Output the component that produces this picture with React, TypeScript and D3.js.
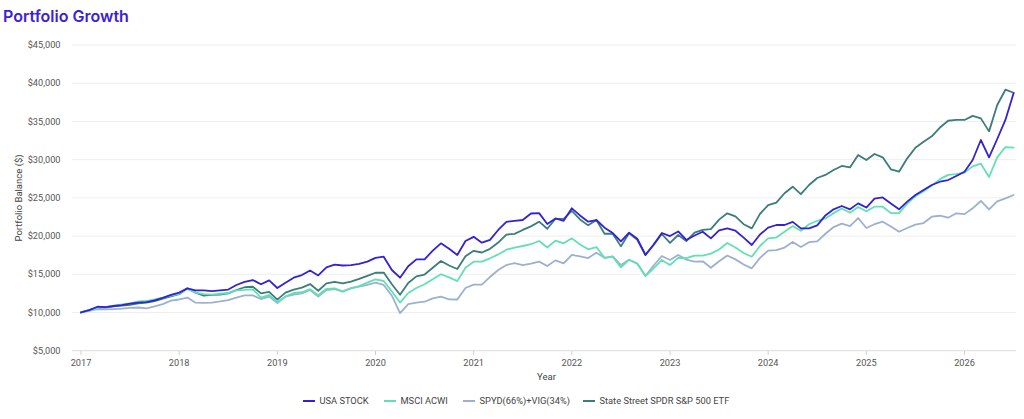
import React from 'react';
import * as d3 from 'd3';

// Year tick labels (one per January, data is monthly from Jan 2017)
const yearLabels = ['2017', '2018', '2019', '2020', '2021', '2022', '2023', '2024', '2025', '2026'];
const yTicks = [5000, 10000, 15000, 20000, 25000, 30000, 35000, 40000, 45000];

// Portfolio balances in thousands of dollars, monthly
const usaStock = [
  10.0, 10.3, 10.75, 10.7, 10.85, 10.95, 11.15, 11.3, 11.35, 11.6, 11.9, 12.3,
  12.6, 13.15, 12.9, 12.9, 12.8, 12.9, 13.0, 13.6, 14.0, 14.25, 13.7, 14.2,
  13.2, 13.9, 14.55, 14.9, 15.5, 14.85, 15.9, 16.25, 16.15, 16.2, 16.35, 16.65,
  17.15, 17.3, 15.56, 14.55, 16.05, 16.95, 16.95, 18.1, 19.05, 18.35, 17.52, 19.35,
  19.9, 19.13, 19.5, 20.8, 21.86, 22.0, 22.1, 22.95, 23.0, 21.58, 22.3, 22.0,
  23.63, 22.7, 21.88, 22.1, 21.1, 20.4, 19.3, 20.45, 19.65, 17.52, 18.9, 20.4,
  20.0, 20.6, 19.49, 20.07, 20.57, 19.7, 20.75, 21.0, 20.7, 19.8, 18.83, 20.2,
  21.1, 21.45, 21.45, 21.86, 21.0, 21.0, 21.4, 22.7, 23.5, 23.93, 23.5, 24.28,
  23.73, 24.9, 25.05, 24.25, 23.5, 24.5, 25.37, 26.03, 26.68, 27.11, 27.33, 27.86,
  28.42, 29.95, 32.57, 30.3, 32.7, 35.19, 38.7,
];
const msciAcwi = [
  10.0, 10.25, 10.6, 10.7, 10.9, 11.05, 11.2, 11.45, 11.5, 11.7, 11.95, 12.2,
  12.45, 13.1, 12.6, 12.4, 12.35, 12.45, 12.55, 12.9, 12.95, 13.03, 11.95, 12.3,
  11.37, 12.1, 12.55, 12.65, 13.05, 12.25, 13.1, 13.16, 12.77, 13.2, 13.46, 13.9,
  14.34, 14.12, 12.75, 11.3, 12.55, 13.2, 13.7, 14.36, 15.0, 14.6, 14.1, 15.85,
  16.65, 16.65, 17.09, 17.6, 18.22, 18.5, 18.7, 18.93, 19.35, 18.5, 19.4, 19.05,
  19.7, 18.9, 18.27, 18.56, 17.15, 17.3, 15.9, 16.9, 16.4, 14.77, 15.78, 16.87,
  16.21, 17.15, 17.1, 17.45, 17.45, 17.7, 18.25, 19.1, 18.5, 17.78, 17.3, 18.7,
  19.7, 19.8, 20.57, 21.3, 20.7, 21.55, 22.0, 22.3, 23.0, 23.6, 23.05, 23.8,
  23.25, 23.84, 23.84, 23.0, 23.0, 24.24, 25.2, 25.85, 26.6, 27.45, 28.0, 28.1,
  28.3, 29.12, 29.48, 27.73, 30.3, 31.65, 31.58,
];
const spydVig = [
  10.0, 10.2, 10.45, 10.4, 10.45, 10.5, 10.6, 10.65, 10.55, 10.8, 11.1, 11.55,
  11.7, 11.95, 11.28, 11.25, 11.3, 11.45, 11.63, 11.95, 12.25, 12.24, 11.76, 12.07,
  11.22, 12.07, 12.35, 12.5, 12.95, 12.07, 12.94, 13.07, 12.72, 13.16, 13.37, 13.6,
  13.9, 13.6, 12.2, 9.93, 11.1, 11.28, 11.41, 11.85, 12.07, 11.72, 11.7, 13.2,
  13.65, 13.65, 14.65, 15.56, 16.21, 16.47, 16.21, 16.38, 16.65, 16.08, 16.82, 16.43,
  17.55, 17.35, 17.12, 17.82, 17.15, 17.35, 16.21, 16.9, 16.4, 14.77, 16.15, 17.39,
  16.87, 17.52, 16.92, 16.65, 16.7, 15.85, 16.7, 17.45, 16.95, 16.28, 15.78, 17.15,
  18.1, 18.15, 18.5, 19.22, 18.56, 19.2, 19.3, 20.3, 21.18, 21.62, 21.3, 22.36,
  21.05, 21.55, 21.88, 21.26, 20.57, 21.05, 21.5, 21.7, 22.53, 22.66, 22.4, 22.98,
  22.87, 23.63, 24.59, 23.5, 24.55, 24.94, 25.37,
];
const stateStreet = [
  10.0, 10.3, 10.6, 10.65, 10.8, 10.9, 11.0, 11.2, 11.3, 11.5, 11.8, 12.1,
  12.4, 13.15, 12.6, 12.2, 12.3, 12.35, 12.5, 12.94, 13.3, 13.37, 12.5, 12.7,
  11.68, 12.6, 13.0, 13.25, 13.72, 12.85, 13.8, 14.0, 13.8, 14.03, 14.4, 14.8,
  15.2, 15.22, 13.7, 12.33, 13.85, 14.72, 14.97, 15.85, 16.74, 16.15, 15.69, 17.35,
  18.07, 17.85, 18.33, 19.15, 20.2, 20.28, 20.8, 21.27, 21.88, 20.95, 22.26, 22.25,
  23.3, 22.17, 21.4, 22.1, 20.3, 20.3, 18.65, 20.36, 19.5, 17.56, 18.83, 20.27,
  19.1, 20.14, 19.35, 20.45, 20.8, 20.9, 22.15, 22.98, 22.58, 21.55, 21.0, 22.9,
  24.06, 24.38, 25.6, 26.46, 25.48, 26.68, 27.6, 28.0, 28.64, 29.17, 28.98, 30.6,
  29.95, 30.74, 30.3, 28.73, 28.42, 30.17, 31.55, 32.35, 33.05, 34.2, 35.09, 35.19,
  35.19, 35.72, 35.4, 33.7, 37.15, 39.15, 38.75,
];

const seriesNames = ['USA STOCK', 'MSCI ACWI', 'SPYD(66%)+VIG(34%)', 'State Street SPDR S&P 500 ETF'];
const seriesData = [usaStock, msciAcwi, spydVig, stateStreet];
const seriesColors = ['#3322d4', '#62e0b4', '#9cb1cf', '#3b7d7a'];

export default function App() {
  const W = 1024;
  const H = 419;
  const left = 72;
  const right = 1016;
  const x = d3.scaleLinear().domain([0, 108]).range([81, 964.5]);
  const y = d3.scaleLinear().domain([5000, 45000]).range([350.7, 45]);
  const line = d3
    .line<number>()
    .x((_, i) => x(i))
    .y((d) => y(d * 1000));
  const fmt = d3.format('$,');
  const axisFont = 'Roboto, "Noto Sans", sans-serif';
  const legendX = [303, 384, 463, 583];

  return (
    <svg
      width={W}
      height={H}
      viewBox={`0 0 ${W} ${H}`}
      style={{ position: 'absolute', left: 0, top: 0, display: 'block', background: '#fff' }}
    >
      <text x={3} y={21.5} fontFamily='Inter, "Open Sans", sans-serif' fontWeight={600} fontSize={16} fill="#3a22d6">
        Portfolio Growth
      </text>

      {yTicks.map((t) => (
        <g key={t}>
          <line
            x1={left}
            x2={right}
            y1={y(t)}
            y2={y(t)}
            stroke={t === 5000 ? '#dcdcdc' : '#eeeeee'}
            strokeWidth={1}
          />
          <text x={60.5} y={y(t)} dy="0.35em" textAnchor="end" fontFamily={axisFont} fontSize={9.2} fill="#555">
            {fmt(t)}
          </text>
        </g>
      ))}

      {yearLabels.map((lab, k) => (
        <g key={lab}>
          <line x1={x(k * 12)} x2={x(k * 12)} y1={351} y2={355} stroke="#d0d0d0" />
          <text x={x(k * 12)} y={366} textAnchor="middle" fontFamily={axisFont} fontSize={9.2} fill="#555">
            {lab}
          </text>
        </g>
      ))}

      <text
        transform="translate(22,198) rotate(-90)"
        textAnchor="middle"
        fontFamily={axisFont}
        fontSize={9.5}
        fill="#444"
      >
        Portfolio Balance ($)
      </text>
      <text x={546.5} y={379.5} textAnchor="middle" fontFamily={axisFont} fontSize={9.5} fill="#444">
        Year
      </text>

      {[3, 2, 1, 0].map((s) => (
        <path
          key={s}
          d={line(seriesData[s]) || ''}
          fill="none"
          stroke={seriesColors[s]}
          strokeWidth={1.8}
          strokeLinejoin="round"
          strokeLinecap="round"
        />
      ))}

      {seriesNames.map((name, s) => (
        <g key={name} transform={`translate(${legendX[s]},401)`}>
          <line x1={0} x2={12} y1={0} y2={0} stroke={seriesColors[s]} strokeWidth={2} />
          <text x={16.5} y={0} dy="0.35em" fontFamily={axisFont} fontSize={9.3} fill="#444">
            {name}
          </text>
        </g>
      ))}
    </svg>
  );
}
